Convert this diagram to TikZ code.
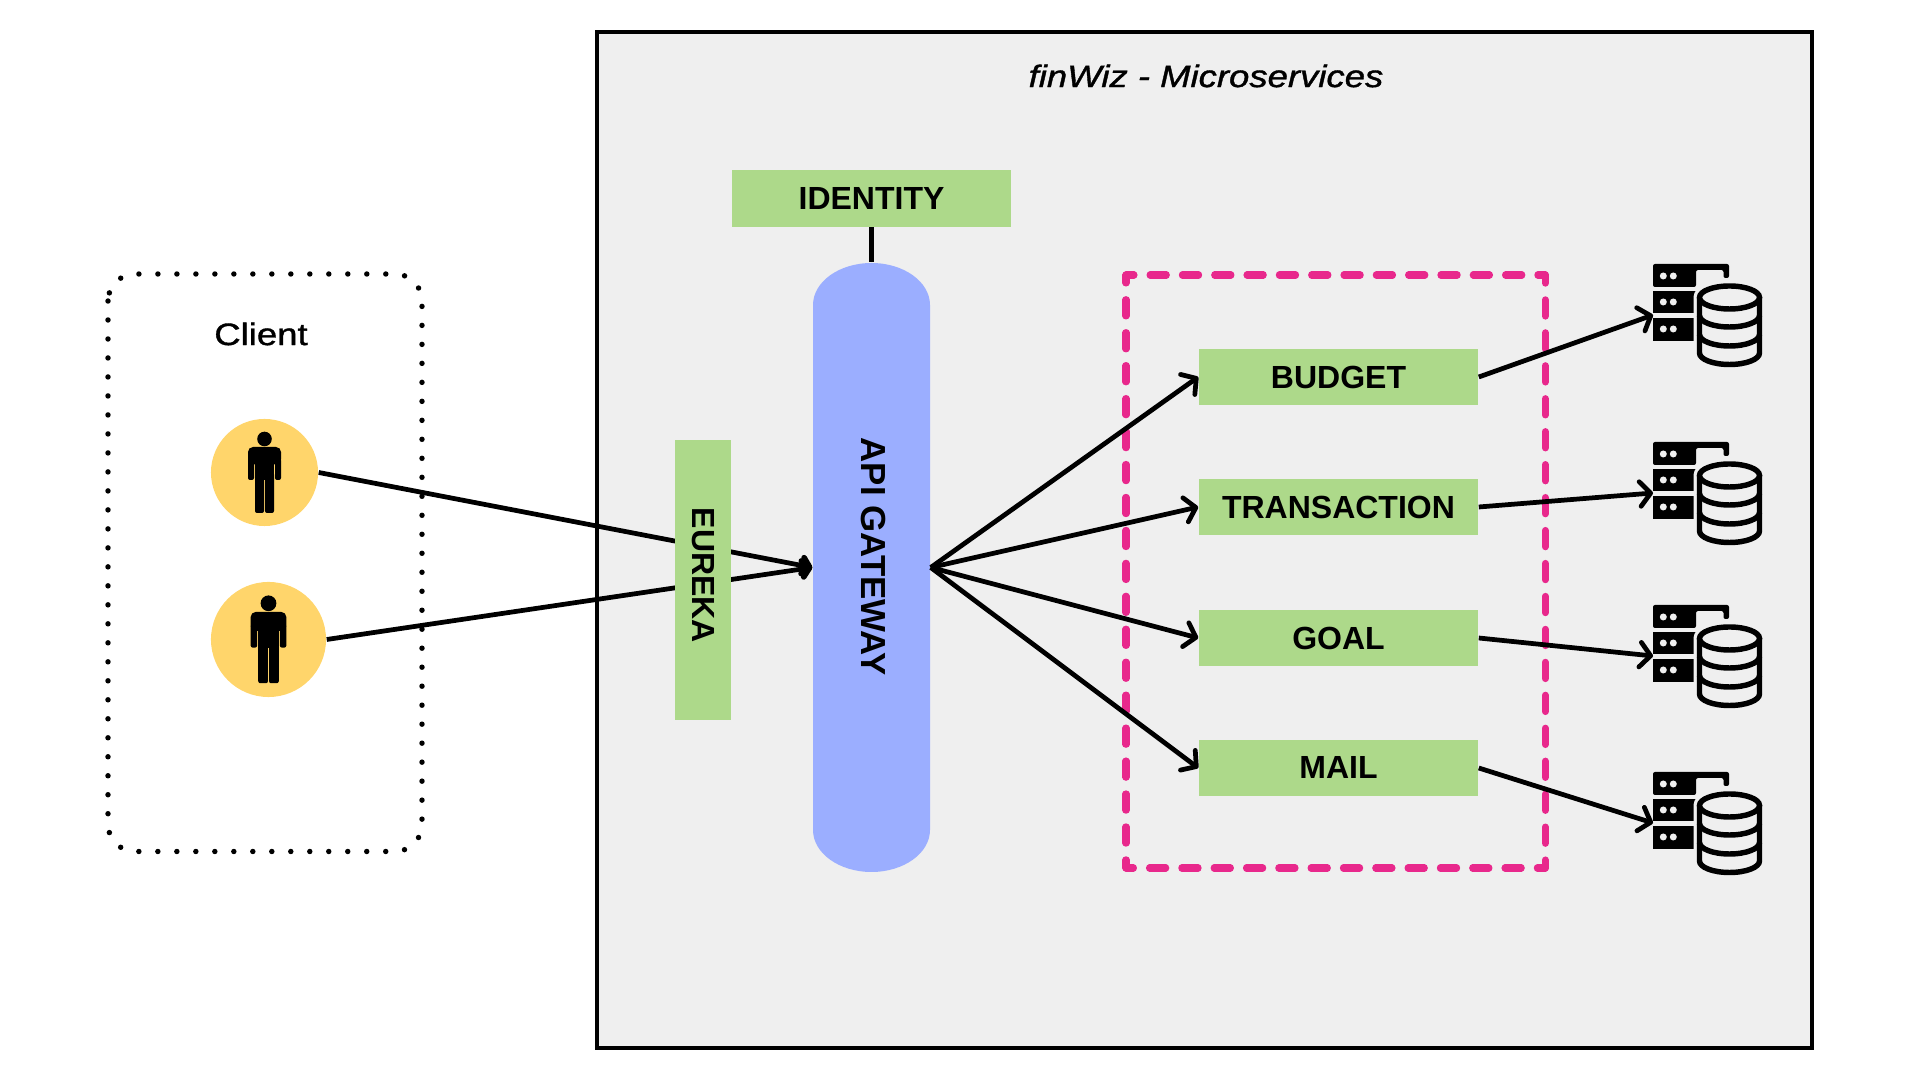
\documentclass[tikz,border=0pt]{standalone}
\usepackage{fontspec}
\setmainfont{Liberation Sans}
\newfontfamily\headfont[FakeStretch=1.18,UprightFeatures={FakeBold=1.2},ItalicFeatures={FakeBold=1.2}]{Liberation Sans}
\usetikzlibrary{arrows.meta}
\definecolor{panelgray}{HTML}{EFEFEF}
\definecolor{boxgreen}{HTML}{ADD98A}
\definecolor{gateblue}{HTML}{9BAEFF}
\definecolor{faceyellow}{HTML}{FFD56B}
\definecolor{groupink}{HTML}{E8288C}
\tikzset{
  servicebox/.style={fill=boxgreen,minimum width=2.79cm,minimum height=0.56cm,inner sep=0pt,font=\fontsize{9.1}{11}\selectfont\bfseries},
  face/.style={circle,fill=faceyellow,inner sep=0pt},
  link/.style={line width=1.35pt,-{Straight Barb[length=3pt,width=7pt,line width=1.35pt,round]}},
  clientlink/.style={line width=1.35pt,-{Straight Barb[length=2pt,width=4.6pt,line width=1.6pt,round]}},
  pinkdash/.style={groupink,line width=2pt,line cap=round,dash pattern=on 4.64pt off #1,dash phase=2.36pt},
  pics/person/.style={code={
    \fill (0,-33.5) circle (7.3);
    \fill[rounded corners=0.05cm] (-16.5,-8) rectangle (16.5,-25.5);
    \fill[rounded corners=0.02cm] (-16.5,-14) rectangle (-10.5,7.5);
    \fill[rounded corners=0.02cm] (10.5,-14) rectangle (16.5,7.5);
    \fill (-9.5,-20) rectangle (9.5,7.5);
    \fill[rounded corners=0.02cm] (-9.5,0) rectangle (-0.5,40.5);
    \fill[rounded corners=0.02cm] (0.5,0) rectangle (9.5,40.5);
  }},
  pics/dbicon/.style={code={
    \fill[rounded corners=0.02cm] (0,-51) -- (76,-51) -- (76,-37) -- (70.5,-37) -- (70.5,-45) -- (43,-45) -- (43,-28) -- (0,-28) -- cycle;
    \fill (0,-24) rectangle (43,-2);
    \fill (0,3) rectangle (43,26);
    \foreach \rowy in {-39,-13,14}{
      \fill[panelgray] (10.3,\rowy) circle (3.5);
      \fill[panelgray] (20.3,\rowy) circle (3.5);
    }
    \fill[panelgray,draw=panelgray,line width=3.4pt] (46.5,-17.5) -- (46.5,38) arc[start angle=180,end angle=0,x radius=30,y radius=11.5] -- (106.5,-17.5) arc[start angle=0,end angle=-180,x radius=30,y radius=11.5] -- cycle;
    \draw[line width=1.55pt] (46.5,-17.5) -- (46.5,38) arc[start angle=180,end angle=0,x radius=30,y radius=11.5] -- (106.5,-17.5);
    \draw[line width=1.55pt] (76.5,-17.5) ellipse [x radius=30,y radius=11.5];
    \draw[line width=1.55pt] (46.5,0.5) arc[start angle=180,end angle=0,x radius=30,y radius=11.5];
    \draw[line width=1.55pt] (46.5,19.5) arc[start angle=180,end angle=0,x radius=30,y radius=11.5];
  }}
}

\begin{document}
\begin{tikzpicture}[x=0.01cm,y=-0.01cm]
\useasboundingbox (0,0) rectangle (1920,1080);
% panels
\draw[line width=1.25pt,fill=panelgray] (597,32) rectangle (1812,1048);
\node (title) at (1206,76) {\headfont\itshape\fontsize{8.8}{12}\selectfont finWiz - Microservices};
\draw[line width=1.55pt,dash pattern=on 0pt off 5.4pt,line cap=round,rounded corners=0.27cm] (108,274) rectangle (422,851.5);
\node (clientlabel) at (261,334) {\headfont\fontsize{8.8}{12}\selectfont Client};
\coordinate (grouptl) at (1126,275);
\coordinate (grouptr) at (1545.3,275);
\coordinate (groupbl) at (1126,868);
\coordinate (groupbr) at (1545.3,868);
\foreach \from/\to/\gap in {grouptl/grouptr/4.55pt,groupbr/groupbl/4.55pt,grouptl/groupbl/4.73pt,groupbr/grouptr/4.73pt}
  \draw[pinkdash=\gap] (\from) -- (\to);
% clients
\node[face,minimum size=1.07cm] (client1) at (264.5,472.5) {};
\node[face,minimum size=1.15cm] (client2) at (268.5,639.5) {};
\pic at (client1) {person};
\pic[scale=1.08] at (client2) {person};
% gateway
\fill[gateblue] (813,305) arc[start angle=180,end angle=360,x radius=58.5,y radius=42] -- (930,830) arc[start angle=0,end angle=180,x radius=58.5,y radius=42] -- cycle;
\node[minimum width=1.17cm,minimum height=6.09cm,inner sep=0pt] (gateway) at (871.5,567.5) {};
\node[rotate=-90,font=\fontsize{9.9}{11}\selectfont\bfseries] (gatewaylabel) at (873,556.7) {API GATEWAY};
\draw[clientlink] (client1.east) -- (gateway.west);
\draw[clientlink] (client2.east) -- (gateway.west);
% services
\node[servicebox] (identity) at (871.5,198.5) {IDENTITY};
\node[servicebox,rotate=-90] (eureka) at (703,580) {EUREKA\hspace*{0.09cm}};
\node[servicebox] (budget) at (1338.5,377) {BUDGET};
\node[servicebox] (transaction) at (1338.5,507) {TRANSACTION};
\node[servicebox] (goal) at (1338.5,638) {GOAL};
\node[servicebox] (mail) at (1338.5,768) {MAIL};
\draw[line width=1.35pt] (identity.south) -- (gateway.north);
\foreach \svc in {budget,transaction,goal,mail}
  \draw[link] (gateway.east) -- (\svc.west);
% databases
\coordinate (db1) at (1653,315);
\coordinate (db2) at (1653,493);
\coordinate (db3) at (1653,656);
\coordinate (db4) at (1653,823);
\foreach \svc/\dbname in {budget/db1,transaction/db2,goal/db3,mail/db4}{
  \draw[link] (\svc.east) -- (\dbname);
  \pic at (\dbname) {dbicon};
}
\end{tikzpicture}
\end{document}
